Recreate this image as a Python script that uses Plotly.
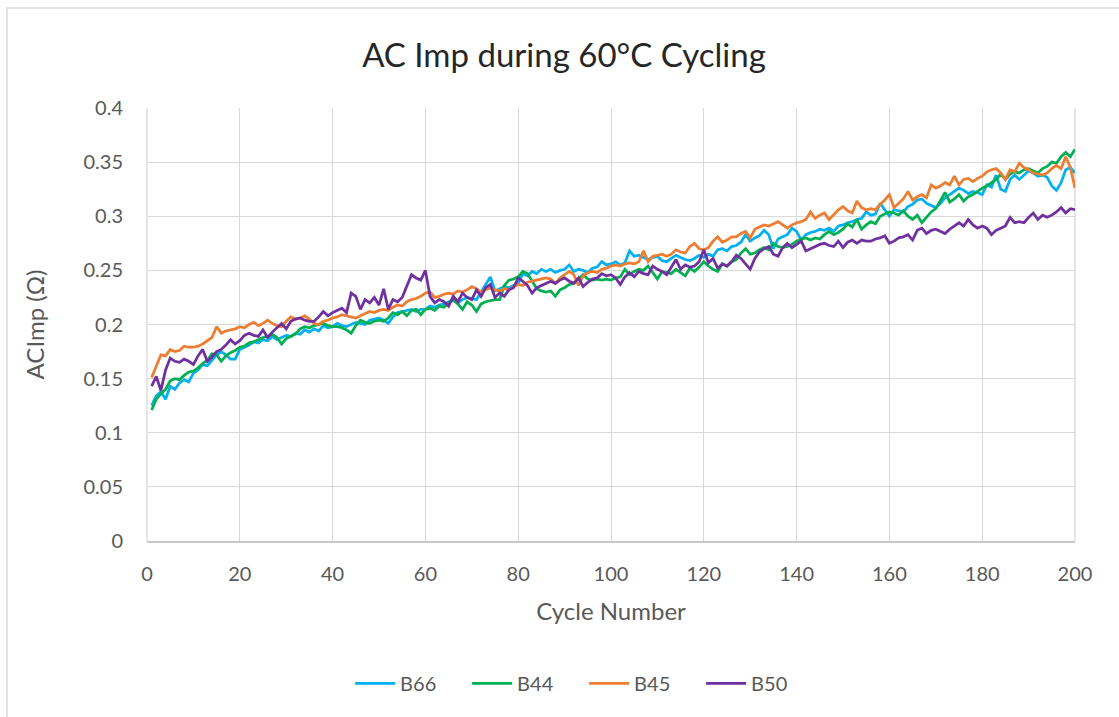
import plotly.graph_objects as go

# Cycle numbers 1..200
cycles = list(range(1, 201))

# AC impedance (Ohm) per cycle for each cell
b66 = [
    0.125, 0.134, 0.138, 0.131, 0.143, 0.140, 0.146, 0.149, 0.147, 0.155,
    0.158, 0.163, 0.162, 0.167, 0.172, 0.175, 0.172, 0.168, 0.168, 0.177,
    0.179, 0.181, 0.184, 0.183, 0.186, 0.185, 0.189, 0.186, 0.188, 0.190,
    0.189, 0.192, 0.191, 0.195, 0.193, 0.196, 0.194, 0.199, 0.197, 0.198,
    0.201, 0.199, 0.198, 0.200, 0.202, 0.201, 0.200, 0.204, 0.205, 0.206,
    0.204, 0.201, 0.207, 0.211, 0.212, 0.213, 0.214, 0.212, 0.214, 0.214,
    0.217, 0.216, 0.218, 0.219, 0.221, 0.222, 0.220, 0.223, 0.225, 0.224,
    0.223, 0.230, 0.237, 0.244, 0.231, 0.233, 0.235, 0.234, 0.236, 0.238,
    0.247, 0.245, 0.249, 0.247, 0.251, 0.249, 0.251, 0.248, 0.250, 0.251,
    0.255, 0.249, 0.251, 0.250, 0.248, 0.252, 0.253, 0.258, 0.255, 0.256,
    0.258, 0.255, 0.257, 0.268, 0.263, 0.264, 0.262, 0.260, 0.262, 0.263,
    0.259, 0.258, 0.261, 0.264, 0.262, 0.260, 0.259, 0.261, 0.264, 0.262,
    0.265, 0.263, 0.269, 0.270, 0.268, 0.272, 0.273, 0.276, 0.283, 0.277,
    0.280, 0.282, 0.287, 0.283, 0.270, 0.279, 0.281, 0.283, 0.289, 0.286,
    0.278, 0.283, 0.285, 0.286, 0.288, 0.287, 0.289, 0.286, 0.291, 0.292,
    0.294, 0.295, 0.297, 0.298, 0.304, 0.301, 0.302, 0.312, 0.306, 0.300,
    0.306, 0.305, 0.304, 0.309, 0.311, 0.315, 0.316, 0.312, 0.310, 0.308,
    0.312, 0.317, 0.320, 0.323, 0.326, 0.324, 0.321, 0.323, 0.322, 0.320,
    0.329, 0.327, 0.338, 0.325, 0.323, 0.334, 0.338, 0.334, 0.338, 0.342,
    0.340, 0.337, 0.338, 0.336, 0.328, 0.324, 0.331, 0.343, 0.345, 0.340,
]

b44 = [
    0.121, 0.131, 0.136, 0.140, 0.148, 0.150, 0.149, 0.153, 0.156, 0.157,
    0.160, 0.164, 0.167, 0.173, 0.172, 0.166, 0.171, 0.174, 0.176, 0.179,
    0.180, 0.183, 0.184, 0.186, 0.188, 0.189, 0.191, 0.188, 0.182, 0.187,
    0.189, 0.191, 0.196, 0.198, 0.197, 0.199, 0.200, 0.201, 0.199, 0.198,
    0.198, 0.197, 0.195, 0.192, 0.199, 0.204, 0.202, 0.201, 0.203, 0.204,
    0.203, 0.206, 0.211, 0.209, 0.212, 0.208, 0.213, 0.214, 0.209, 0.214,
    0.215, 0.213, 0.217, 0.216, 0.220, 0.223, 0.219, 0.214, 0.221, 0.218,
    0.212, 0.219, 0.221, 0.222, 0.223, 0.223, 0.236, 0.241, 0.242, 0.244,
    0.249, 0.247, 0.240, 0.233, 0.231, 0.230, 0.231, 0.226, 0.232, 0.234,
    0.237, 0.238, 0.242, 0.246, 0.242, 0.241, 0.242, 0.241, 0.242, 0.241,
    0.243, 0.244, 0.251, 0.246, 0.249, 0.251, 0.250, 0.254, 0.248, 0.242,
    0.249, 0.248, 0.247, 0.251, 0.248, 0.245, 0.252, 0.249, 0.253, 0.258,
    0.254, 0.251, 0.249, 0.256, 0.254, 0.258, 0.260, 0.266, 0.270, 0.265,
    0.266, 0.269, 0.271, 0.269, 0.275, 0.272, 0.271, 0.272, 0.274, 0.277,
    0.279, 0.280, 0.278, 0.280, 0.279, 0.283, 0.286, 0.283, 0.285, 0.288,
    0.293, 0.290, 0.297, 0.288, 0.292, 0.295, 0.293, 0.300, 0.302, 0.304,
    0.303, 0.301, 0.305, 0.300, 0.297, 0.301, 0.294, 0.299, 0.304, 0.307,
    0.315, 0.322, 0.313, 0.316, 0.320, 0.314, 0.318, 0.320, 0.323, 0.326,
    0.328, 0.331, 0.334, 0.339, 0.334, 0.339, 0.341, 0.340, 0.343, 0.344,
    0.342, 0.340, 0.344, 0.346, 0.350, 0.349, 0.355, 0.359, 0.355, 0.362,
]

b45 = [
    0.151, 0.162, 0.172, 0.171, 0.177, 0.175, 0.176, 0.180, 0.179, 0.179,
    0.180, 0.182, 0.185, 0.188, 0.198, 0.192, 0.194, 0.195, 0.196, 0.198,
    0.197, 0.200, 0.202, 0.199, 0.201, 0.204, 0.201, 0.199, 0.198, 0.203,
    0.207, 0.205, 0.206, 0.208, 0.205, 0.201, 0.200, 0.203, 0.204, 0.206,
    0.207, 0.209, 0.208, 0.207, 0.206, 0.208, 0.210, 0.212, 0.211, 0.213,
    0.214, 0.213, 0.216, 0.218, 0.217, 0.221, 0.223, 0.224, 0.226, 0.229,
    0.230, 0.225, 0.226, 0.228, 0.229, 0.228, 0.231, 0.230, 0.232, 0.235,
    0.233, 0.230, 0.232, 0.234, 0.232, 0.231, 0.233, 0.232, 0.235, 0.237,
    0.236, 0.239, 0.240, 0.241, 0.242, 0.243, 0.242, 0.238, 0.243, 0.246,
    0.249, 0.246, 0.236, 0.245, 0.248, 0.249, 0.248, 0.251, 0.252, 0.254,
    0.255, 0.254, 0.256, 0.257, 0.256, 0.258, 0.268, 0.258, 0.263, 0.264,
    0.265, 0.263, 0.265, 0.269, 0.267, 0.266, 0.272, 0.275, 0.270, 0.269,
    0.271, 0.277, 0.281, 0.276, 0.278, 0.281, 0.281, 0.284, 0.286, 0.280,
    0.288, 0.290, 0.292, 0.291, 0.293, 0.295, 0.292, 0.289, 0.292, 0.294,
    0.295, 0.297, 0.304, 0.298, 0.301, 0.303, 0.297, 0.302, 0.306, 0.309,
    0.305, 0.303, 0.314, 0.308, 0.306, 0.307, 0.306, 0.311, 0.315, 0.320,
    0.308, 0.312, 0.316, 0.323, 0.315, 0.318, 0.320, 0.317, 0.329, 0.326,
    0.328, 0.331, 0.329, 0.337, 0.329, 0.334, 0.335, 0.332, 0.335, 0.337,
    0.341, 0.343, 0.344, 0.340, 0.334, 0.343, 0.341, 0.349, 0.345, 0.343,
    0.340, 0.339, 0.338, 0.340, 0.344, 0.347, 0.344, 0.355, 0.345, 0.326,
]

b50 = [
    0.143, 0.152, 0.139, 0.158, 0.169, 0.166, 0.165, 0.168, 0.166, 0.163,
    0.171, 0.177, 0.166, 0.170, 0.175, 0.177, 0.181, 0.186, 0.182, 0.185,
    0.190, 0.192, 0.190, 0.189, 0.195, 0.188, 0.193, 0.197, 0.201, 0.196,
    0.203, 0.205, 0.206, 0.204, 0.203, 0.203, 0.207, 0.212, 0.208, 0.211,
    0.213, 0.215, 0.211, 0.229, 0.226, 0.214, 0.223, 0.220, 0.225, 0.218,
    0.233, 0.214, 0.223, 0.221, 0.225, 0.236, 0.246, 0.243, 0.241, 0.250,
    0.226, 0.220, 0.223, 0.221, 0.217, 0.226, 0.221, 0.229, 0.225, 0.223,
    0.232, 0.226, 0.234, 0.237, 0.225, 0.229, 0.226, 0.232, 0.234, 0.243,
    0.240, 0.236, 0.229, 0.234, 0.236, 0.238, 0.240, 0.238, 0.241, 0.243,
    0.240, 0.238, 0.243, 0.235, 0.239, 0.242, 0.243, 0.247, 0.245, 0.246,
    0.243, 0.237, 0.244, 0.248, 0.244, 0.249, 0.247, 0.246, 0.254, 0.251,
    0.249, 0.246, 0.253, 0.260, 0.251, 0.255, 0.253, 0.254, 0.258, 0.269,
    0.257, 0.261, 0.252, 0.256, 0.254, 0.258, 0.264, 0.261, 0.256, 0.251,
    0.261, 0.267, 0.270, 0.272, 0.265, 0.263, 0.271, 0.275, 0.271, 0.274,
    0.277, 0.268, 0.270, 0.272, 0.274, 0.275, 0.273, 0.272, 0.277, 0.271,
    0.276, 0.278, 0.275, 0.278, 0.277, 0.277, 0.279, 0.280, 0.282, 0.275,
    0.277, 0.280, 0.281, 0.283, 0.278, 0.287, 0.289, 0.284, 0.287, 0.288,
    0.286, 0.284, 0.288, 0.291, 0.294, 0.291, 0.297, 0.292, 0.289, 0.291,
    0.289, 0.283, 0.287, 0.289, 0.291, 0.299, 0.294, 0.295, 0.294, 0.299,
    0.303, 0.297, 0.301, 0.299, 0.301, 0.304, 0.308, 0.303, 0.307, 0.306,
]

series_names = ["B66", "B44", "B45", "B50"]
series_colors = ["#00B0F0", "#00B050", "#ED7D31", "#7030A0"]

x_ticks = [0, 20, 40, 60, 80, 100, 120, 140, 160, 180, 200]
y_ticks = [0, 0.05, 0.1, 0.15, 0.2, 0.25, 0.3, 0.35, 0.4]
y_tick_labels = ["0", "0.05", "0.1", "0.15", "0.2", "0.25", "0.3", "0.35", "0.4"]

FONT = "Lato, 'Open Sans', sans-serif"
TEXT = "#595959"
GRID = "#D9D9D9"

fig = go.Figure()
for name, vals, color in zip(series_names, [b66, b44, b45, b50], series_colors):
    fig.add_trace(go.Scatter(
        x=cycles, y=vals, mode="lines", name=name,
        line=dict(color=color, width=2.75),
    ))

fig.update_layout(
    width=1119, height=717,
    margin=dict(l=147, r=44, t=108, b=176),
    paper_bgcolor="white", plot_bgcolor="white",
    font=dict(family=FONT, color=TEXT, size=20),
    title=dict(
        text="AC Imp during 60°C Cycling",
        x=0.504, xref="container", xanchor="center",
        y=0.923, yref="container", yanchor="middle",
        font=dict(family=FONT, size=33, color="#262626"),
    ),
    xaxis=dict(
        range=[0, 200], tickvals=x_ticks, ticks="",
        showgrid=True, gridcolor=GRID, gridwidth=1.3,
        showline=True, linecolor="#C8C8C8", linewidth=1.5, mirror=False,
        zeroline=False, ticklabelstandoff=14,
        tickfont=dict(size=20, color=TEXT),
        title=dict(text="Cycle Number", standoff=19,
                   font=dict(size=24, color=TEXT)),
    ),
    yaxis=dict(
        range=[0, 0.4], tickvals=y_ticks, ticktext=y_tick_labels, ticks="",
        showgrid=True, gridcolor=GRID, gridwidth=1.3,
        zeroline=False, showline=False, ticklabelstandoff=23,
        tickfont=dict(size=20, color=TEXT),
        title=dict(text="ACImp (Ω)", standoff=32,
                   font=dict(size=24, color=TEXT)),
    ),
    legend=dict(
        orientation="h", xref="container", yref="container",
        x=0.522, xanchor="center", y=0.047, yanchor="middle",
        font=dict(size=20, color=TEXT), itemwidth=40,
        traceorder="normal", entrywidth=62,
    ),
    showlegend=True,
)

# left / top chart-area border and plot frame lines
fig.add_shape(type="rect", xref="paper", yref="paper",
              x0=-0.151, x1=1.2, y0=-0.6, y1=1.231,
              line=dict(color="#D9D9D9", width=1.5), layer="below")
fig.add_shape(type="line", xref="paper", yref="paper",
              x0=0, x1=0, y0=0, y1=1,
              line=dict(color=GRID, width=1.3), layer="below")
fig.add_shape(type="line", xref="paper", yref="paper",
              x0=1, x1=1, y0=0, y1=1,
              line=dict(color=GRID, width=1.3), layer="below")

fig.write_html("out.html")
